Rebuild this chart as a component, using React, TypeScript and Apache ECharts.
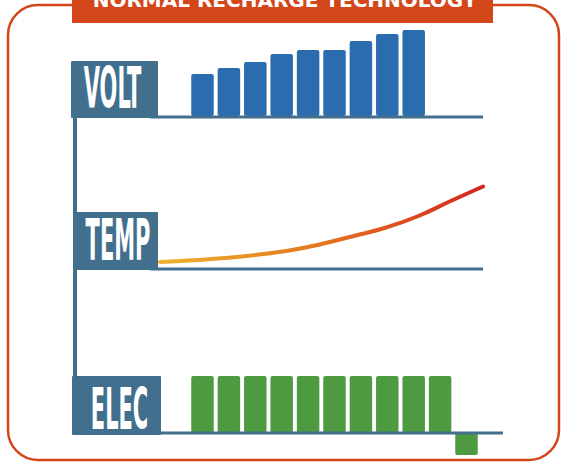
import React, { useEffect, useRef } from 'react';
import * as echarts from 'echarts';

const TITLE = 'NORMAL RECHARGE TECHNOLOGY';
const ROW_LABELS = ['VOLT', 'TEMP', 'ELEC'];
const STEPS = ['1', '2', '3', '4', '5', '6', '7', '8', '9', '10', '11'];
const VOLT_VALUES: (number | string)[] = [42, 48, 54, 62, 66, 66, 75, 82, 86, '-', '-'];
const TEMP_X = [0, 1, 2, 3, 4, 5, 6, 7, 8, 9, 10];
const TEMP_VALUES = [8, 9.7, 12, 15.2, 19.5, 26, 34, 42.5, 54, 69, 83.5];
const ELEC_VALUES = [57, 57, 57, 57, 57, 57, 57, 57, 57, 57, -22];

const ORANGE = '#D3461A';
const STEEL = '#426F8E';
const BLUE = '#2B6CAE';
const GREEN = '#4E9A40';

export default function App() {
  const ref = useRef<HTMLDivElement>(null);
  useEffect(() => {
    if (!ref.current) return;
    const chart = echarts.init(ref.current, null, { renderer: 'svg' });
    const labelFont = 'bold 24px "DejaVu Sans Condensed", "DejaVu Sans", sans-serif';
    const boxes = [
      { x: 71, y: 61, w: 87, h: 57, cx: 112.5, cy: 88 },
      { x: 73, y: 212, w: 85, h: 58, cx: 118, cy: 239.5 },
      { x: 72, y: 376, w: 89, h: 59, cx: 119.5, cy: 409 },
    ];
    const graphic: any[] = [
      {
        type: 'rect', z: 1,
        shape: { x: 8, y: 5, width: 551, height: 455, r: 30 },
        style: { fill: 'none', stroke: ORANGE, lineWidth: 2.5 },
      },
      {
        type: 'rect', z: 2,
        shape: { x: 72, y: -2, width: 421, height: 25 },
        style: { fill: ORANGE },
      },
      {
        type: 'text', z: 3, x: 285, y: 9.5,
        style: {
          text: TITLE, fill: '#ffffff',
          font: 'bold 20px "DejaVu Sans", sans-serif',
          align: 'center', verticalAlign: 'bottom',
        },
      },
      {
        type: 'line', z: 50,
        shape: { x1: 75, y1: 110, x2: 75, y2: 433 },
        style: { stroke: STEEL, lineWidth: 4 },
      },
      {
        type: 'line', z: 50,
        shape: { x1: 150, y1: 117, x2: 483, y2: 117 },
        style: { stroke: STEEL, lineWidth: 3 },
      },
      {
        type: 'line', z: 50,
        shape: { x1: 150, y1: 269, x2: 483, y2: 269 },
        style: { stroke: STEEL, lineWidth: 3 },
      },
      {
        type: 'line', z: 50,
        shape: { x1: 150, y1: 433, x2: 503, y2: 433 },
        style: { stroke: STEEL, lineWidth: 3 },
      },
    ];
    boxes.forEach((b, i) => {
      graphic.push({
        type: 'rect', z: 51,
        shape: { x: b.x, y: b.y, width: b.w, height: b.h, r: 1 },
        style: { fill: STEEL },
      });
      graphic.push({
        type: 'text', z: 52, x: b.cx, y: b.cy, scaleY: 2.4, scaleX: 0.97,
        style: {
          text: ROW_LABELS[i], fill: '#ffffff', font: labelFont,
          align: 'center', verticalAlign: 'middle',
        },
      });
    });

    const catLeft = 189.3;
    const catWidth = 290.4;
    chart.setOption({
      animation: false,
      backgroundColor: '#ffffff',
      graphic,
      grid: [
        { left: catLeft, top: 16, width: catWidth, height: 100 },
        { left: 160, top: 180, width: 323, height: 90 },
        { left: catLeft, top: 373, width: catWidth, height: 90 },
      ],
      xAxis: [
        { type: 'category', gridIndex: 0, data: STEPS, show: false },
        { type: 'value', gridIndex: 1, min: 0, max: 10, show: false },
        { type: 'category', gridIndex: 2, data: STEPS, show: false },
      ],
      yAxis: [
        { type: 'value', gridIndex: 0, min: 0, max: 100, show: false },
        { type: 'value', gridIndex: 1, min: 0, max: 90, show: false },
        { type: 'value', gridIndex: 2, min: -30, max: 60, show: false },
      ],
      series: [
        {
          type: 'bar', xAxisIndex: 0, yAxisIndex: 0, data: VOLT_VALUES,
          barWidth: 22.5, itemStyle: { color: BLUE, borderRadius: 2 },
        },
        {
          type: 'line', xAxisIndex: 1, yAxisIndex: 1,
          data: TEMP_X.map((x, i) => [x, TEMP_VALUES[i]]),
          smooth: 0.5, showSymbol: false, symbol: 'none',
          lineStyle: {
            width: 4,
            cap: 'round',
            color: new echarts.graphic.LinearGradient(0, 0, 1, 0, [
              { offset: 0, color: '#EDB22E' },
              { offset: 0.5, color: '#E3761F' },
              { offset: 1, color: '#D4261F' },
            ]),
          },
        },
        {
          type: 'bar', xAxisIndex: 2, yAxisIndex: 2, data: ELEC_VALUES,
          barWidth: 22.5, itemStyle: { color: GREEN, borderRadius: 2 },
        },
      ],
    });
    return () => chart.dispose();
  }, []);
  return (
    <div
      ref={ref}
      style={{ position: 'fixed', left: 0, top: 0, width: 565, height: 463 }}
    />
  );
}
